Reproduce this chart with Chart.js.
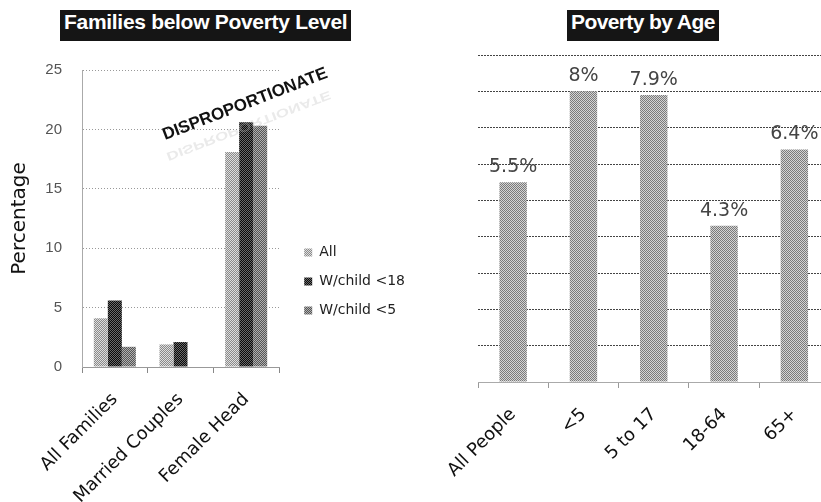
<!DOCTYPE html>
<html>
<head>
<meta charset="utf-8">
<title>Poverty</title>
<script src="https://cdn.jsdelivr.net/npm/chart.js@4"></script>
<style>
  html, body { margin: 0; padding: 0; background: #fff; width: 821px; height: 502px; overflow: hidden; position: relative; }
  canvas { position: absolute; }
  #families { left: 0; top: 41px; }
  #ages { left: 420px; top: 40px; }
  .title { position: absolute; top: 10px; height: 31px; line-height: 31px; padding: 0 4px; background: #151515; color: #fff;
           font: bold 21px "Liberation Sans", Arial, sans-serif; letter-spacing: -0.3px; white-space: nowrap; }
  #familiesTitle { left: 60px; }
  #ageTitle { left: 567px; letter-spacing: -0.6px; }
  .stamp { position: absolute; left: 245px; top: 104px; transform: translate(-50%, -50%) rotate(-21deg);
           font: bold 17px "Liberation Sans", Arial, sans-serif; color: #111; white-space: nowrap; z-index: 2; }
  .stamp.echo { top: 116px; color: #bbb; opacity: 0.3; transform: translate(-50%, -50%) rotate(-21deg) translate(0, 10px) scaleY(-0.7); z-index: 1; }
</style>
</head>
<body>
<div class="title" id="familiesTitle">Families below Poverty Level</div>
<div class="title" id="ageTitle">Poverty by Age</div>
<canvas id="families" width="415" height="461"></canvas>
<canvas id="ages" width="420" height="461"></canvas>
<div class="stamp echo">DISPROPORTIONATE</div>
<div class="stamp">DISPROPORTIONATE</div>
<script>
// families chart
const familyGroups = ['All Families', 'Married Couples', 'Female Head'];
const seriesNames = ['All', 'W/child <18', 'W/child <5'];
const allFamilies = [4.1, 1.9, 18.1];
const withChildUnder18 = [5.6, 2.1, 20.6];
const withChildUnder5 = [1.7, null, 20.3];

// age chart
const ageGroups = ['All People', '<5', '5 to 17', '18-64', '65+'];
const povertyByAge = [5.5, 8, 7.9, 4.3, 6.4];

const fontFamily = '"DejaVu Sans", Verdana, sans-serif';
Chart.defaults.font.family = fontFamily;

// halftone-ish fill for the bars
function dither(dark, light) {
    const c = document.createElement('canvas');
    c.width = c.height = 4;
    const g = c.getContext('2d');
    g.fillStyle = light;
    g.fillRect(0, 0, 4, 4);
    g.fillStyle = dark;
    for (let y = 0; y < 4; y++) {
        for (let x = 0; x < 4; x++) {
            if ((x + y) % 2 === 0) g.fillRect(x, y, 1, 1);
        }
    }
    return g.createPattern(c, 'repeat');
}

const valueLabels = {
    id: 'valueLabels',
    afterDatasetsDraw(chart) {
        const ctx = chart.ctx;
        const meta = chart.getDatasetMeta(0);
        ctx.save();
        ctx.font = '19px ' + fontFamily;
        ctx.fillStyle = '#444';
        ctx.textAlign = 'center';
        ctx.textBaseline = 'alphabetic';
        meta.data.forEach((bar, i) => {
            ctx.fillText(povertyByAge[i] + '%', bar.x, bar.y - 10);
        });
        ctx.restore();
    }
};

new Chart(document.getElementById('families'), {
    type: 'bar',
    data: {
        labels: familyGroups,
        datasets: [
            { label: seriesNames[0], data: allFamilies, backgroundColor: dither('#8a8a8a', '#dedede') },
            { label: seriesNames[1], data: withChildUnder18, backgroundColor: dither('#0a0a0a', '#6a6a6a') },
            { label: seriesNames[2], data: withChildUnder5, backgroundColor: dither('#555555', '#b0b0b0') }
        ]
    },
    options: {
        responsive: false,
        animation: false,
        layout: { padding: { top: 20, left: 0, right: 0, bottom: 0 } },
        datasets: { bar: { categoryPercentage: 0.64, barPercentage: 1 } },
        plugins: {
            legend: {
                position: 'right',
                maxWidth: 200,
                labels: { boxWidth: 8, boxHeight: 8, padding: 15, color: '#222', font: { size: 14 } }
            },
            tooltip: { enabled: false }
        },
        scales: {
            x: {
                grid: { offset: true, drawOnChartArea: false, tickLength: 6, color: '#888' },
                border: { color: '#999' },
                ticks: { minRotation: 45, maxRotation: 45, padding: 16, color: '#111', font: { size: 18 } },
                afterFit: s => { s.height = 135; }
            },
            y: {
                min: 0,
                max: 25,
                ticks: { stepSize: 5, padding: 20, color: '#555', font: { family: '"Liberation Sans", Arial, sans-serif', size: 15 } },
                grid: { drawTicks: false, color: '#999' },
                border: { color: '#aaa', dash: [1, 2] },
                title: { display: true, text: 'Percentage', color: '#111', font: { size: 20 }, padding: { top: 8, bottom: 0 } },
                afterFit: s => { s.width = 82; }
            },
            gap: {
                type: 'linear',
                axis: 'y',
                position: 'right',
                grid: { display: false },
                border: { display: false },
                ticks: { display: false },
                afterFit: s => { s.width = Math.max(0, s.chart.width - s.chart.legend.width - 279); }
            }
        }
    }
});

new Chart(document.getElementById('ages'), {
    type: 'bar',
    data: {
        labels: ageGroups,
        datasets: [{
            label: 'Poverty',
            data: povertyByAge,
            backgroundColor: dither('#7a7a7a', '#d4d4d4'),
            categoryPercentage: 0.39,
            barPercentage: 1
        }]
    },
    options: {
        responsive: false,
        animation: false,
        layout: { padding: { top: 15, right: 10.5, left: 0, bottom: 0 } },
        plugins: { legend: { display: false }, tooltip: { enabled: false } },
        scales: {
            x: {
                grid: { offset: true, drawOnChartArea: false, tickLength: 6, color: '#999' },
                border: { color: '#aaa' },
                ticks: { minRotation: 45, maxRotation: 45, padding: 16, color: '#111', font: { size: 18 } },
                afterFit: s => { s.height = 119; }
            },
            y: {
                min: 0,
                max: 9,
                ticks: { stepSize: 1, display: false },
                grid: { drawTicks: false, color: '#444' },
                border: { display: false, dash: [2, 1] },
                afterFit: s => { s.width = 58; }
            }
        }
    },
    plugins: [valueLabels]
});
</script>
</body>
</html>
